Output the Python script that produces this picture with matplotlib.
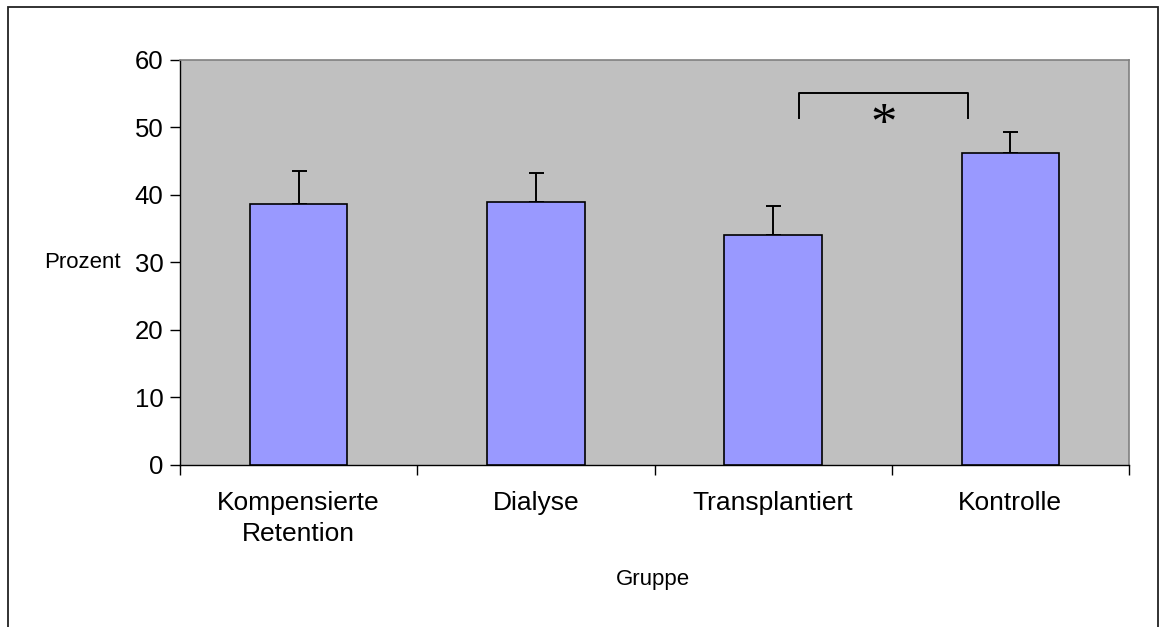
import matplotlib
matplotlib.use("Agg")
import matplotlib.pyplot as plt
from matplotlib.patches import Rectangle
import numpy as np

categories = ["Kompensierte\nRetention", "Dialyse", "Transplantiert", "Kontrolle"]
values = [38.6, 38.9, 34.0, 46.1]
err_upper = [4.9, 4.3, 4.3, 3.2]
yticks = [0, 10, 20, 30, 40, 50, 60]
bracket_pair = (2.11, 2.82)
bracket_y = (51.4, 55.0)
star_y = 50.2

plt.rcParams['font.family'] = ['Liberation Sans', 'DejaVu Sans']

fig = plt.figure(figsize=(11.6, 6.27), dpi=100)
ax = fig.add_axes([180/1160, 1-465/627, (1129-180)/1160, (465-59.5)/627])
ax.set_facecolor('#C0C0C0')

x = np.arange(len(categories))
ax.bar(x, values, width=0.41, color='#9999FF', edgecolor='black', linewidth=1.2, zorder=3)
ax.errorbar(x, values, yerr=[np.zeros(len(values)), err_upper], fmt='none',
            ecolor='black', elinewidth=1.4, capsize=5.4, capthick=1.4, zorder=2)

ax.set_xlim(-0.5, len(categories) - 0.5)
ax.set_ylim(0, 60)
ax.set_yticks(yticks)
ax.set_yticklabels([str(v) for v in yticks], fontsize=18.5)
ax.tick_params(axis='y', direction='out', length=7, width=1, pad=5, color='black')

ax.set_xticks(np.arange(-0.5, len(categories)), minor=False)
ax.set_xticklabels([])
ax.tick_params(axis='x', which='major', direction='out', length=7, width=1, color='black')
ax.set_xticks(x, minor=True)
ax.set_xticklabels(categories, minor=True, fontsize=19, linespacing=1.36)
ax.tick_params(axis='x', which='minor', length=0, pad=19)

for side in ['top', 'right']:
    ax.spines[side].set_color('#808080')
    ax.spines[side].set_linewidth(1.2)
for side in ['left', 'bottom']:
    ax.spines[side].set_color('black')
    ax.spines[side].set_linewidth(1.0)

# significance bracket
x0, x1 = bracket_pair
ax.plot([x0, x0, x1, x1], [bracket_y[0], bracket_y[1], bracket_y[1], bracket_y[0]],
        color='black', linewidth=1.4, zorder=4)
ax.text((x0 + x1) / 2, star_y, '*', ha='center', va='center', fontsize=38,
        family=['Liberation Serif', 'DejaVu Serif'], zorder=4)

fig.text(121/1160, 1-262/627, 'Prozent', ha='right', va='center', fontsize=16)
fig.text(653/1160, 1-579/627, 'Gruppe', ha='center', va='center', fontsize=16)

# figure frame (bottom edge cut off)
frame = Rectangle((8/1160, -0.05), (1158-8)/1160, (1-7/627) + 0.05, transform=fig.transFigure,
                  fill=False, edgecolor='#222222', linewidth=1.3)
fig.patches.append(frame)

fig.savefig('out.png', dpi=100, facecolor='white')
